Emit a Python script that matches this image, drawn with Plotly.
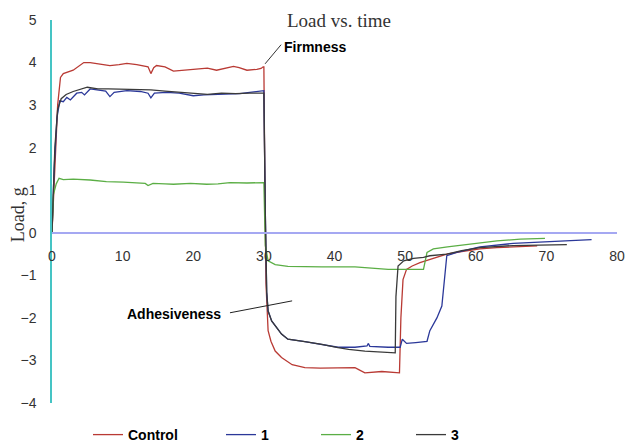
import plotly.graph_objects as go

# ---- data ----
control_t = [0, 0.4, 0.8, 1.2, 1.6, 3.0, 4.5, 5.4, 6.8, 8.2, 9.5, 10.6, 12.0, 12.9, 13.6, 14.0, 14.4, 14.8, 16.0, 17.2,
             19.1, 21.0, 22.0, 23.3, 24.5, 25.7, 26.5, 27.6, 29.0, 29.6, 29.9, 30.0, 30.15, 30.3, 30.6, 31.0, 31.6,
             32.5, 34.0, 35.8, 38.0, 40.5, 42.9, 43.5, 44.3, 46.7, 48.6, 49.2, 49.4, 49.7, 50.2, 51.0, 52.1, 54.0,
             55.9, 58.0, 60.6, 63.0, 65.3, 68.7]
control_load = [0, 1.6, 3.0, 3.65, 3.74, 3.82, 4.0, 4.0, 3.97, 3.93, 3.95, 3.98, 3.95, 3.93, 3.9, 3.74, 3.88, 3.93,
                3.9, 3.8, 3.83, 3.85, 3.87, 3.82, 3.86, 3.91, 3.88, 3.82, 3.84, 3.86, 3.9, 3.9, 1.0, -1.2, -2.3,
                -2.55, -2.78, -2.93, -3.1, -3.17, -3.18, -3.18, -3.17, -3.22, -3.29, -3.26, -3.29, -3.29, -2.0,
                -1.1, -0.86, -0.78, -0.7, -0.6, -0.5, -0.44, -0.38, -0.35, -0.33, -0.31]

s1_t = [0, 0.3, 0.7, 1.1, 1.6, 2.1, 2.6, 3.0, 3.5, 4.2, 4.6, 5.4, 6.5, 7.6, 8.2, 8.8, 10.6, 12.5, 13.6, 14.0, 14.5,
        16.2, 18.0, 20.0, 21.5, 23.3, 25.0, 26.6, 28.0, 29.9, 30.0, 30.2, 30.4, 30.6, 31.1, 32.5, 33.4, 35.8, 38.2,
        40.5, 42.9, 44.6, 44.8, 45.0, 47.6, 48.8, 49.3, 49.6, 50.2, 51.5, 53.1, 53.5, 54.5, 55.2, 55.6, 55.9, 57.3,
        60.6, 65.3, 70.0, 72.9, 76.4]
s1_load = [0, 1.5, 2.7, 3.1, 3.08, 3.18, 3.12, 3.2, 3.28, 3.3, 3.24, 3.38, 3.36, 3.33, 3.2, 3.3, 3.34, 3.32, 3.28,
           3.17, 3.28, 3.3, 3.28, 3.22, 3.24, 3.25, 3.26, 3.27, 3.3, 3.34, 3.34, 0.5, -1.4, -1.84, -2.07, -2.38,
           -2.5, -2.56, -2.62, -2.69, -2.69, -2.66, -2.6, -2.67, -2.69, -2.69, -2.69, -2.5, -2.6, -2.58, -2.55,
           -2.3, -2.0, -1.72, -1.0, -0.54, -0.46, -0.33, -0.25, -0.21, -0.2, -0.16]

s2_t = [0, 0.2, 0.6, 1.0, 1.6, 3.0, 5.4, 7.7, 10.1, 12.0, 13.2, 13.6, 14.0, 14.3, 16.0, 17.2, 19.6, 21.9, 23.5, 25.2,
        27.6, 29.7, 30.0, 30.2, 30.6, 31.6, 33.4, 38.2, 42.9, 47.6, 52.6, 53.1, 54.0, 56.0, 58.3, 63.0, 66.3, 69.8]
s2_load = [0, 0.9, 1.15, 1.28, 1.25, 1.26, 1.24, 1.2, 1.19, 1.18, 1.16, 1.11, 1.15, 1.16, 1.15, 1.14, 1.16, 1.14,
           1.15, 1.18, 1.17, 1.18, 1.18, -0.3, -0.66, -0.75, -0.79, -0.8, -0.8, -0.86, -0.86, -0.46, -0.38, -0.33,
           -0.28, -0.19, -0.15, -0.13]

s3_t = [0, 0.4, 0.8, 1.3, 2.0, 3.0, 5.0, 6.5, 8.0, 10.0, 12.0, 14.0, 16.0, 18.0, 20.0, 22.0, 24.0, 26.0, 28.0, 29.9,
        30.0, 30.2, 30.4, 30.6, 31.1, 32.5, 33.4, 35.8, 38.2, 40.5, 42.0, 44.3, 46.5, 48.6, 48.7, 49.0, 49.8, 51.2,
        52.6, 53.5, 55.9, 58.0, 60.6, 65.3, 69.0, 72.9]
s3_load = [0, 2.0, 2.9, 3.15, 3.25, 3.32, 3.42, 3.38, 3.38, 3.37, 3.37, 3.36, 3.33, 3.3, 3.27, 3.25, 3.28, 3.27,
           3.28, 3.28, 3.28, 0.5, -1.4, -1.84, -2.07, -2.38, -2.5, -2.56, -2.62, -2.7, -2.74, -2.78, -2.8, -2.82,
           -1.5, -0.78, -0.66, -0.6, -0.58, -0.54, -0.5, -0.42, -0.35, -0.3, -0.29, -0.28]

series_names = ["Control", "1", "2", "3"]
x_ticks = [0, 10, 20, 30, 40, 50, 60, 70, 80]
y_ticks = [-4, -3, -2, -1, 0, 1, 2, 3, 4, 5]

colors = ["#B93A34", "#2B3899", "#5BAE45", "#3A3A3A"]
legend_ids = ["legend", "legend2", "legend2", "legend2"]
series = [(control_t, control_load), (s1_t, s1_load), (s2_t, s2_load), (s3_t, s3_load)]

fig = go.Figure()
for name, (t, l), c, lg in zip(series_names, series, colors, legend_ids):
    fig.add_trace(go.Scatter(x=t, y=l, mode="lines", name=name, legend=lg,
                             line=dict(color=c, width=1.3)))

tick_font = dict(family="Liberation Sans, Arial, sans-serif", size=14, color="#333333")
legend_font = dict(family="Liberation Sans, Arial, sans-serif", size=14, color="black", weight="bold")
serif_font = dict(family="Liberation Serif, Times New Roman, serif", size=18, color="#333333")

fig.update_layout(
    width=627, height=446,
    margin=dict(l=52, r=10, t=20, b=43, autoexpand=False),
    plot_bgcolor="white", paper_bgcolor="white",
    title=dict(text="Load vs. time", xref="paper", x=(339 - 52) / 565, xanchor="center",
               yref="container", y=1 - 20 / 446, yanchor="middle",
               font=dict(family="Liberation Serif, Times New Roman, serif", size=19, color="#333333")),
    xaxis=dict(range=[0, 80], tickvals=x_ticks, showgrid=False, zeroline=False,
               showline=True, linecolor="#A5A8F2", linewidth=1.5,
               anchor="free", position=4 / 9, automargin=False,
               ticks="outside", ticklen=11, tickcolor="rgba(0,0,0,0)",
               tickfont=tick_font),
    yaxis=dict(range=[-4, 5], tickvals=y_ticks, showgrid=False, zeroline=False,
               showline=True, linecolor="#45C4C4", linewidth=1.5, automargin=False,
               ticks="outside", ticklen=11, tickcolor="rgba(0,0,0,0)",
               tickfont=tick_font),
    legend=dict(orientation="h", x=(88 - 52) / 565, xanchor="left", y=-32 / 383, yanchor="middle",
                font=legend_font),
    legend2=dict(orientation="h", x=(221 - 52) / 565, xanchor="left", y=-32 / 383, yanchor="middle",
                 entrywidth=50, entrywidthmode="pixels", font=legend_font),
    showlegend=True,
)

# y-axis title
fig.add_annotation(text="Load, g", xref="paper", yref="paper", x=(18 - 52) / 565, y=0.49,
                   xanchor="center", yanchor="middle", textangle=-90, showarrow=False, font=serif_font)

# leader lines for annotations
fig.add_shape(type="line", xref="x", yref="y", x0=32.44, y0=4.42, x1=30.17, y1=3.97,
              line=dict(color="#333333", width=1))
fig.add_shape(type="line", xref="x", yref="y", x0=25.2, y0=-1.88, x1=34.0, y1=-1.6,
              line=dict(color="#222222", width=1))

fig.add_annotation(text="Firmness", x=32.5, y=4.36, xref="x", yref="y", xanchor="left", yanchor="middle",
                   showarrow=False, font=legend_font)
fig.add_annotation(text="Adhesiveness", x=24.2, y=-1.92, xref="x", yref="y", xanchor="right", yanchor="middle",
                   showarrow=False, font=legend_font)

fig.write_html("out.html", config={"displayModeBar": False},
               post_script="document.body.style.margin='0';")
